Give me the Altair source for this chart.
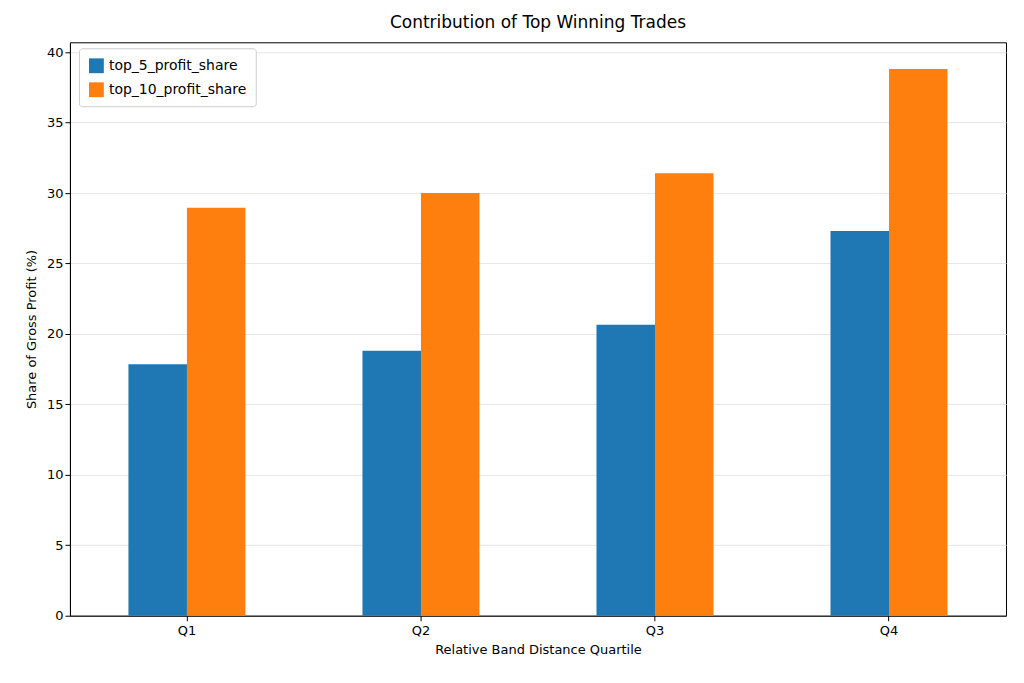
import pandas as pd
import altair as alt

quartiles = ["Q1", "Q2", "Q3", "Q4"]
top_5 = [17.85, 18.8, 20.65, 27.3]
top_10 = [28.95, 30.0, 31.4, 38.8]
series = ["top_5_profit_share", "top_10_profit_share"]

rows = []
for q, a, b in zip(quartiles, top_5, top_10):
    rows.append({"quartile": q, "series": series[0], "value": a})
    rows.append({"quartile": q, "series": series[1], "value": b})
df = pd.DataFrame(rows)

font = "DejaVu Sans"

chart = alt.Chart(df).mark_bar().encode(
    x=alt.X("quartile:N", title="Relative Band Distance Quartile",
            scale=alt.Scale(paddingInner=0.5, paddingOuter=0.25),
            axis=alt.Axis(labelAngle=0, grid=False, labelPadding=4, titlePadding=6)),
    xOffset=alt.XOffset("series:N", sort=series, scale=alt.Scale(paddingInner=0)),
    y=alt.Y("value:Q", title="Share of Gross Profit (%)",
            scale=alt.Scale(domain=[0, 40.7], nice=False),
            axis=alt.Axis(values=list(range(0, 41, 5)), gridColor="#e6e6e6",
                          titlePadding=8)),
    color=alt.Color("series:N", sort=series, title=None,
                    scale=alt.Scale(domain=series, range=["#1f77b4", "#ff7f0e"]),
                    legend=alt.Legend(orient="none", legendX=9, legendY=6,
                                      fillColor="white", strokeColor="#cccccc",
                                      padding=9, cornerRadius=3, rowPadding=8,
                                      symbolType="square", symbolSize=220,
                                      labelFontSize=14, labelFont=font)),
).properties(
    width=937, height=574,
    title=alt.TitleParams("Contribution of Top Winning Trades", fontSize=17,
                          font=font, fontWeight="normal", offset=10),
    autosize=alt.AutoSizeParams(type="none"),
    padding={"left": 62, "top": 34, "right": 10, "bottom": 60},
).configure_view(stroke="black", strokeWidth=1).configure_axis(
    domainColor="black", tickColor="black", labelColor="black",
    titleColor="black", labelFont=font, titleFont=font,
    labelFontSize=13, titleFontSize=13, titleFontWeight="normal",
)

chart.save("out.html", embed_options={"renderer": "svg", "actions": False})
